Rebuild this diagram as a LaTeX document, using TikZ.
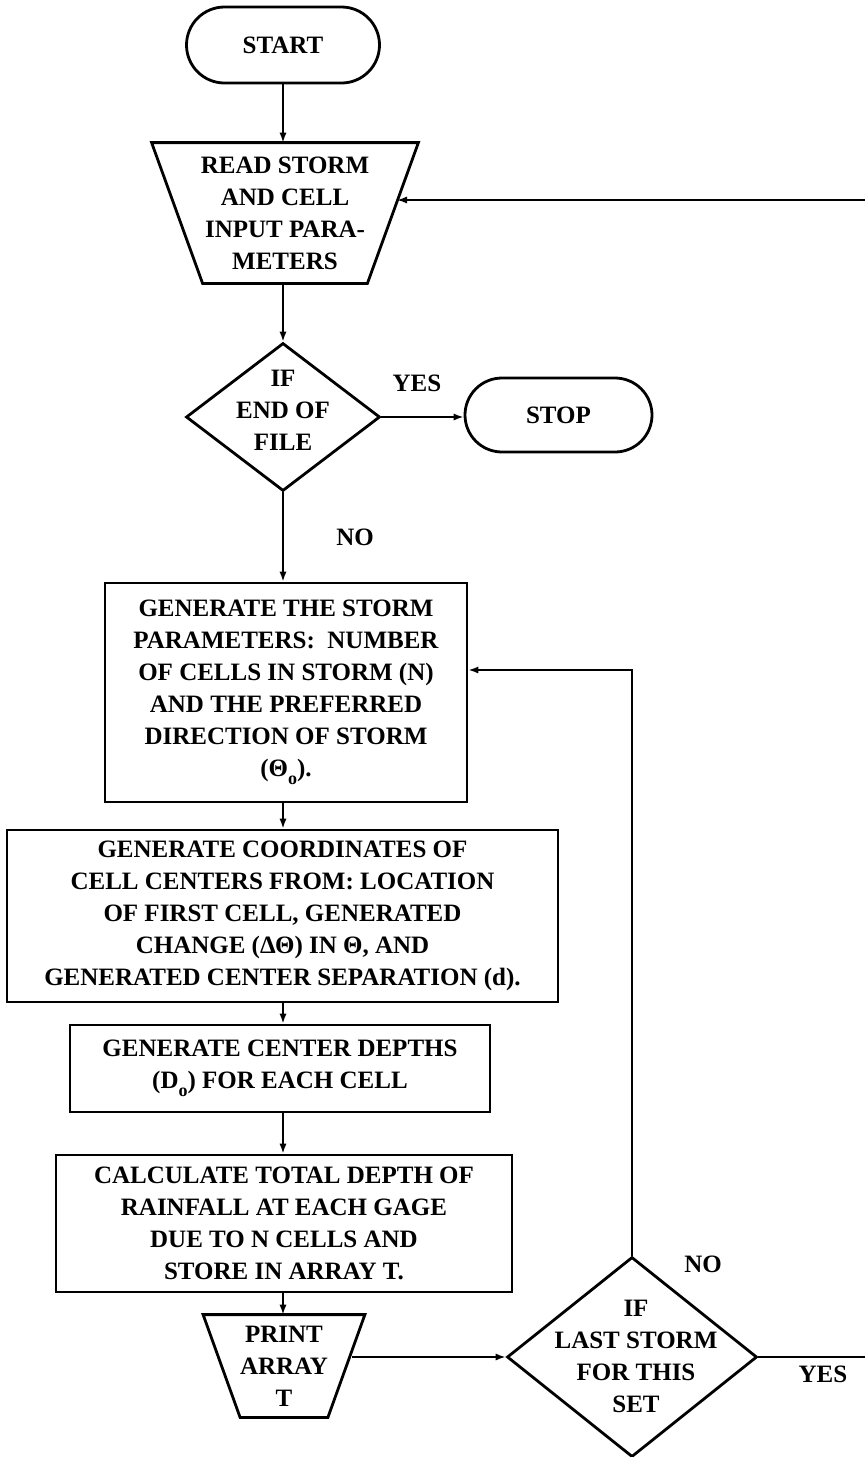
\documentclass[tikz,border=0pt]{standalone}
\usepackage{fontspec}
\setmainfont{Liberation Serif}
\usetikzlibrary{shapes.geometric,shapes.misc,arrows.meta}
\begin{document}
\begin{tikzpicture}[x=0.5pt,y=-0.5pt,
  every node/.style={font=\fontsize{12.5}{16}\selectfont\bfseries, align=center, inner sep=0pt},
  box/.style={draw, line width=1.4pt, rectangle},
  term/.style={draw, line width=1.4pt, rounded rectangle},
  iobox/.style={rectangle},
  outline/.style={draw, line width=1.4pt, line join=miter},
  dec/.style={draw, line width=1.4pt, diamond},
  arr/.style={line width=0.9pt, -{Latex[length=5pt,width=3.6pt]}},
  ln/.style={line width=0.9pt}]
\useasboundingbox (0,0) rectangle (865,1457);

% nodes
\node[term, minimum width=96.5pt, minimum height=38pt] (start) at (283,45) {START};
\node[iobox, minimum width=133pt, minimum height=70pt] (read) at (285,213) {READ STORM\\AND CELL\\INPUT PARA-\\METERS};
\draw[outline] (read.north west) -- (read.north east) -- ([xshift=-25.5pt]read.south east)
  -- ([xshift=25.5pt]read.south west) -- cycle;
\node[dec, minimum width=97pt, minimum height=74pt] (d1) at (283,417) {};
\node (d1t) at (283,410) {IF\\END OF\\FILE};
\node[term, minimum width=93.5pt, minimum height=37pt] (stop) at (558.5,415) {STOP};
\node[box, minimum width=181pt, minimum height=109.5pt] (storm) at (286,692.5)
  {GENERATE THE STORM\\PARAMETERS:\ \ NUMBER\\OF CELLS IN STORM (N)\\AND THE PREFERRED\\DIRECTION OF STORM\\(Θ\raisebox{-0.7ex}{\small o}).};
\node[box, minimum width=275.5pt, minimum height=86pt] (coords) at (282.5,916)
  {GENERATE COORDINATES OF\\CELL CENTERS FROM: LOCATION\\OF FIRST CELL, GENERATED\\CHANGE (ΔΘ) IN Θ, AND\\GENERATED CENTER SEPARATION (d).};
\node[box, minimum width=210pt, minimum height=43.5pt] (depth) at (280,1068.5)
  {GENERATE CENTER DEPTHS\\(D\raisebox{-0.7ex}{\small o}) FOR EACH CELL};
\node[box, minimum width=228pt, minimum height=68.5pt] (calc) at (284,1223.5)
  {CALCULATE TOTAL DEPTH OF\\RAINFALL AT EACH GAGE\\DUE TO N CELLS AND\\STORE IN ARRAY T.};
\node[iobox, minimum width=80.5pt, minimum height=51pt] (print) at (284,1366) {PRINT\\ARRAY\\T};
\draw[outline] (print.north west) -- (print.north east) -- ([xshift=-18.5pt]print.south east)
  -- ([xshift=18.5pt]print.south west) -- cycle;
\node[dec, minimum width=125pt, minimum height=100pt] (d2) at (632,1357) {};
\node (d2t) at (636,1356) {IF\\LAST STORM\\FOR THIS\\SET};

% labels
\node (yes1) at (417,383) {YES};
\node (no1) at (355,537) {NO};
\node (no2) at (703,1264) {NO};
\node (yes2) at (823,1374) {YES};

% free ends and points on slanted sides
\coordinate (inR) at (865,200);
\coordinate (readR) at (397,200);
\coordinate (printR) at (352,1357);
\coordinate (outR) at (865,1357);
\coordinate (fb) at (632,670);

% connectors
\draw[arr] (start.south) -- (start.south |- read.north);
\draw[arr] (inR) -- (readR);
\draw[arr] (read.south -| d1.north) -- (d1.north);
\draw[arr] (d1.east) -- (stop.west |- d1.east);
\draw[arr] (d1.south) -- (d1.south |- storm.north);
\draw[arr] (d1.south |- storm.south) -- (d1.south |- coords.north);
\draw[arr] (d1.south |- coords.south) -- (d1.south |- depth.north);
\draw[arr] (d1.south |- depth.south) -- (d1.south |- calc.north);
\draw[arr] (d1.south |- calc.south) -- (d1.south |- print.north);
\draw[arr] (printR) -- (d2.west);
\draw[arr] (d2.north) -- (fb) -- (storm.east |- fb);
\draw[ln] (d2.east) -- (outR);
\end{tikzpicture}
\end{document}
